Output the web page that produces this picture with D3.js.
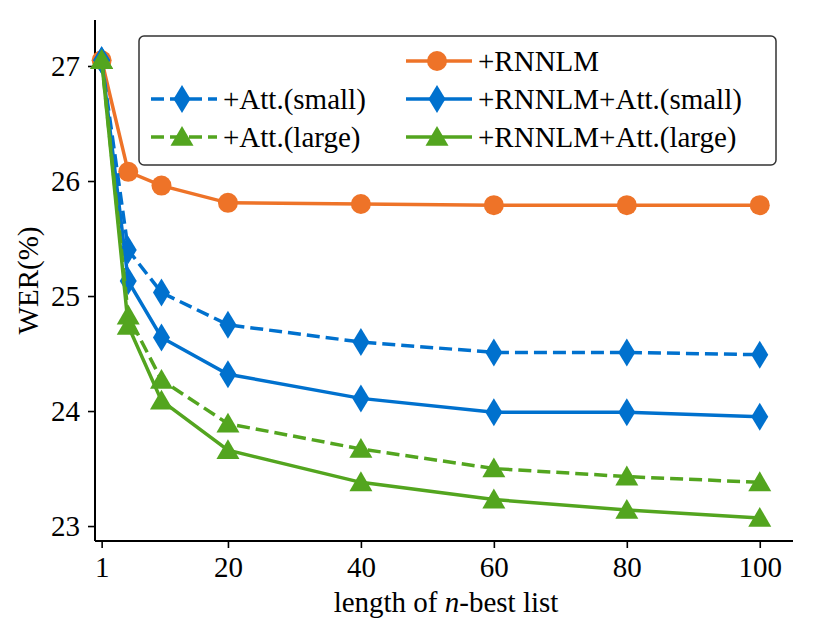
<!DOCTYPE html>
<html>
<head>
<script src="https://cdn.jsdelivr.net/npm/d3@7"></script>
</head>
<body>
<script>
// n-best list lengths and WER(%) per system
const nBest = [1, 5, 10, 20, 40, 60, 80, 100];
const rnnlm = [27.05, 26.08, 25.96, 25.81, 25.80, 25.79, 25.79, 25.79];
const attSmall = [27.05, 25.40, 25.03, 24.75, 24.60, 24.51, 24.51, 24.49];
const rnnlmAttSmall = [27.05, 25.13, 24.64, 24.32, 24.11, 23.99, 23.99, 23.95];
const attLarge = [27.05, 24.83, 24.27, 23.89, 23.67, 23.50, 23.43, 23.38];
const rnnlmAttLarge = [27.05, 24.74, 24.09, 23.66, 23.38, 23.23, 23.14, 23.07];
const xTicks = [1, 20, 40, 60, 80, 100];
const yTicks = [23, 24, 25, 26, 27];

const orange = '#ee7328';
const blue = '#0071ce';
const green = '#53a51f';
const serifFont = '"Liberation Serif"';

const series = [
  {name: '+RNNLM', values: rnnlm, color: orange, marker: 'circle', dashed: false},
  {name: '+Att.(small)', values: attSmall, color: blue, marker: 'diamond', dashed: true},
  {name: '+RNNLM+Att.(small)', values: rnnlmAttSmall, color: blue, marker: 'diamond', dashed: false},
  {name: '+Att.(large)', values: attLarge, color: green, marker: 'triangle', dashed: true},
  {name: '+RNNLM+Att.(large)', values: rnnlmAttLarge, color: green, marker: 'triangle', dashed: false}
];

const width = 813;
const height = 635;
const plot = {left: 95, right: 793, top: 20, bottom: 541};

d3.select('body').style('margin', '0px').style('background', '#fff');

const svg = d3.select('body').append('svg')
  .attr('width', width)
  .attr('height', height);

const x = d3.scaleLinear().domain([0, 105]).range([plot.left, plot.right]);
const y = d3.scaleLinear().domain([22.87, 27.4]).range([plot.bottom, plot.top]);

function drawMarker(g, type, cx, cy, color) {
  if (type === 'circle') {
    g.append('circle').attr('cx', cx).attr('cy', cy).attr('r', 10).attr('fill', color);
  } else if (type === 'diamond') {
    const w = 8.5, h = 14;
    g.append('path')
      .attr('d', `M${cx},${cy - h}L${cx + w},${cy}L${cx},${cy + h}L${cx - w},${cy}Z`)
      .attr('fill', color);
  } else {
    const w = 11.5, h = 11;
    g.append('path')
      .attr('d', `M${cx},${cy - h}L${cx + w},${cy + h * 0.8}L${cx - w},${cy + h * 0.8}Z`)
      .attr('fill', color);
  }
}

function serif(sel) {
  return sel.style('font-family', serifFont).style('font-size', '29px');
}

// axes
const xAxis = d3.axisBottom(x).tickValues(xTicks).tickFormat(d3.format('d')).tickSize(7).tickPadding(8);
const yAxis = d3.axisLeft(y).tickValues(yTicks).tickFormat(d3.format('d')).tickSize(7).tickPadding(8);

const gx = svg.append('g').attr('transform', `translate(0,${plot.bottom})`).call(xAxis);
const gy = svg.append('g').attr('transform', `translate(${plot.left},0)`).call(yAxis);
[gx, gy].forEach(g => {
  g.attr('font-family', null).attr('font-size', null);
  g.select('.domain').attr('stroke', '#000').attr('stroke-width', 2);
  g.selectAll('.tick line').attr('stroke', '#000').attr('stroke-width', 1.6);
  serif(g.selectAll('.tick text')).attr('fill', '#000');
});
gx.select('.domain').attr('d', `M${plot.left},0H${plot.right}`);
gy.select('.domain').attr('d', `M0,${plot.bottom}V${plot.top}`);

// lines and markers
const line = d3.line()
  .x((d, i) => x(nBest[i]))
  .y(d => y(d));

series.forEach(s => {
  svg.append('path')
    .datum(s.values)
    .attr('d', line)
    .attr('fill', 'none')
    .attr('stroke', s.color)
    .attr('stroke-width', 3.5)
    .attr('stroke-dasharray', s.dashed ? '13,6' : null);
  const g = svg.append('g');
  s.values.forEach((v, i) => drawMarker(g, s.marker, x(nBest[i]), y(v), s.color));
});

// axis labels
const xLabel = serif(svg.append('text'))
  .attr('x', (plot.left + plot.right) / 2 + 2)
  .attr('y', 612)
  .attr('text-anchor', 'middle');
xLabel.append('tspan').text('length of ');
xLabel.append('tspan').style('font-style', 'italic').text('n');
xLabel.append('tspan').text('-best list');

serif(svg.append('text'))
  .attr('transform', `translate(38,${(plot.top + plot.bottom) / 2}) rotate(-90)`)
  .attr('text-anchor', 'middle')
  .text('WER(%)');

// legend
const legend = svg.append('g');
legend.append('rect')
  .attr('x', 139).attr('y', 36)
  .attr('width', 637).attr('height', 129)
  .attr('rx', 5)
  .attr('fill', '#fff').attr('fill-opacity', 0.85)
  .attr('stroke', '#333').attr('stroke-width', 1.5);

const legendCols = [
  {x0: 151, items: [null, series[1], series[3]]},
  {x0: 406, items: [series[0], series[2], series[4]]}
];
const rowY = [61, 99, 137];

legendCols.forEach(col => {
  col.items.forEach((s, r) => {
    if (!s) return;
    const cy = rowY[r];
    legend.append('line')
      .attr('x1', col.x0).attr('x2', col.x0 + 66)
      .attr('y1', cy).attr('y2', cy)
      .attr('stroke', s.color).attr('stroke-width', 3.5)
      .attr('stroke-dasharray', s.dashed ? '13,6' : null);
    drawMarker(legend, s.marker, col.x0 + 31, cy, s.color);
    serif(legend.append('text'))
      .attr('x', col.x0 + 72)
      .attr('y', cy)
      .attr('dy', '0.35em')
      .text(s.name);
  });
});
</script>
</body>
</html>
